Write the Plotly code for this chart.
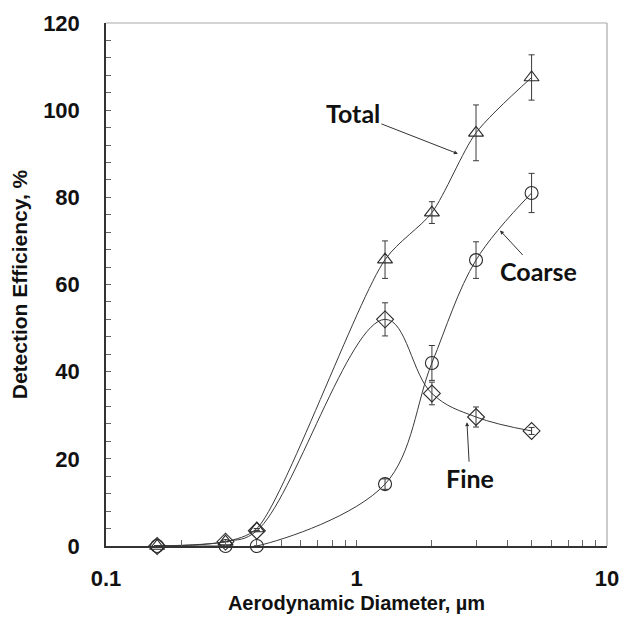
import math
import plotly.graph_objects as go

diameter = [0.16, 0.3, 0.4, 1.3, 2, 3, 5]

total = [0, 1, 4, 65.7, 76.5, 94.8, 107.5]
total_err = [0, 0, 0, 4.3, 2.5, 6.4, 5.2]

coarse = [0, 0, 0, 14.2, 42, 65.6, 81]
coarse_err = [0, 0, 0, 1.2, 4, 4.2, 4.5]

fine = [0, 1, 3.5, 52, 35, 29.6, 26.4]
fine_err = [0, 0, 0, 3.8, 2.6, 2.3, 0.8]

x_ticks = [0.1, 1, 10]
x_ticklabels = ["0.1", "1", "10"]
y_ticks = [0, 20, 40, 60, 80, 100, 120]

LINE = "#3a3a3a"
MK = "#2a2a2a"

fig = go.Figure()

def add_series(y, err, symbol, name, smooth):
    fig.add_trace(go.Scatter(
        x=diameter, y=y, name=name, mode="lines+markers",
        line=dict(color=LINE, width=1, shape="spline", smoothing=smooth),
        marker=dict(symbol=symbol, size=13, color=MK,
                    line=dict(color=MK, width=1.1)),
        error_y=dict(type="data", array=err, visible=True, color=LINE,
                     thickness=1, width=3),
        cliponaxis=False, showlegend=False))

add_series(total, total_err, "triangle-up-open", "Total", 0.75)
add_series(coarse, coarse_err, "circle-open", "Coarse", 1.0)
add_series(fine, fine_err, "diamond-open", "Fine", 1.1)

ann_font = dict(family="Lato, Open Sans, sans-serif", size=25, color="#111")
for txt, xv, yv, ax, ay in [("Total", 2.54, 90.0, -105, -41),
                            ("Coarse", 3.74, 72.4, 38, 41),
                            ("Fine", 2.76, 28.4, 3, 56)]:
    fig.add_annotation(x=math.log10(xv), y=yv, text="<b>%s</b>" % txt,
                       showarrow=True, arrowhead=2, arrowsize=0.8, arrowwidth=1,
                       arrowcolor="#333", ax=ax, ay=ay, font=ann_font,
                       standoff=0, startstandoff=0)

tick_font = dict(family="Liberation Sans, Arial, sans-serif", size=22, color="#111")
title_font = dict(family="Liberation Sans Narrow, Arial Narrow, Liberation Sans, sans-serif",
                  size=21, color="#111")

fig.update_xaxes(type="log", range=[-1, 1], tickvals=x_ticks,
                 ticktext=["<b>%s</b>" % t for t in x_ticklabels],
                 tickfont=tick_font, ticks="", showgrid=False, zeroline=False,
                 showline=True, linecolor="#333", linewidth=1.5, automargin=False,
                 ticklabeloverflow="allow",
                 minor=dict(ticks="inside", ticklen=6, tickcolor="#666",
                            tickvals=[0.2, 0.3, 0.4, 0.5, 0.6, 0.7, 0.8, 0.9, 1,
                                      2, 3, 4, 5, 6, 7, 8, 9]),
                 title=dict(text="<b>Aerodynamic Diameter, µm</b>",
                            font=dict(title_font, size=20), standoff=6),
                 ticklabelstandoff=12)

fig.update_yaxes(range=[0, 120], tickvals=y_ticks,
                 ticktext=["<b>%d</b>" % v for v in y_ticks],
                 tickfont=tick_font, ticks="inside", ticklen=5, tickcolor="#666",
                 showgrid=False, zeroline=False, automargin=False,
                 showline=True, linecolor="#333", linewidth=1.5,
                 minor=dict(ticks="inside", ticklen=5, tickcolor="#666", dtick=4),
                 title=dict(text="<b>Detection Efficiency, %</b>", font=title_font,
                            standoff=10),
                 ticklabelstandoff=20)

fig.add_shape(type="line", xref="paper", yref="paper", x0=0, x1=1, y0=1, y1=1,
              line=dict(color="#aaaaaa", width=1.2))
fig.add_shape(type="line", xref="paper", yref="paper", x0=1, x1=1, y0=0, y1=1,
              line=dict(color="#aaaaaa", width=1.2))

fig.update_layout(width=622, height=630, paper_bgcolor="white", plot_bgcolor="white",
                  margin=dict(l=106, r=15, t=23, b=84))

fig.write_html("out.html", config={"displayModeBar": False},
               post_script="document.body.style.margin='0';"
                           "document.body.style.overflow='hidden';")
